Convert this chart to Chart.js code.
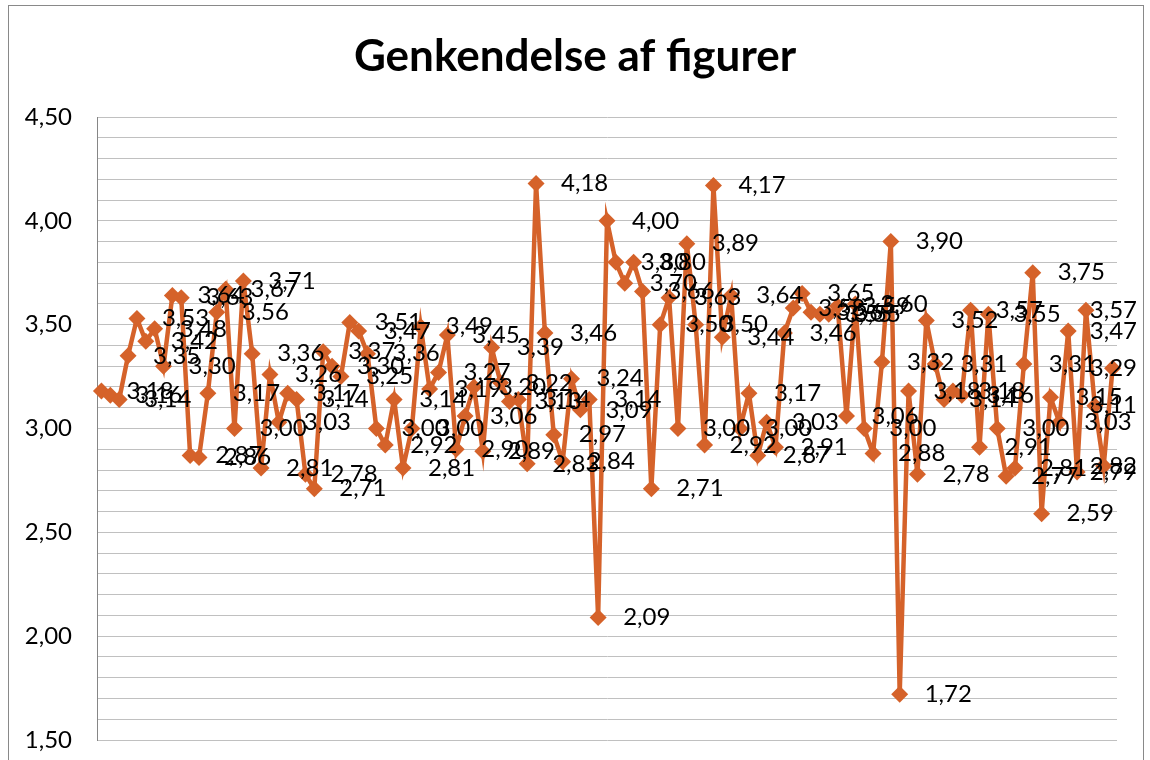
<!DOCTYPE html>
<html><head><meta charset="utf-8">
<script src="https://cdn.jsdelivr.net/npm/chart.js"></script>
<style>html,body{margin:0;padding:0;background:#fff;overflow:hidden;}canvas{display:block;}</style>
</head><body>
<canvas id="c" width="1150" height="760"></canvas>
<script>
const chartTitle = 'Genkendelse af figurer';
const values = [
3.18,3.16,3.14,3.35,3.53,3.42,3.48,3.30,3.64,3.63,
2.87,2.86,3.17,3.56,3.67,3.00,3.71,3.36,2.81,3.26,
3.03,3.17,3.14,2.78,2.71,3.37,3.30,3.25,3.51,3.47,
3.36,3.00,2.92,3.14,2.81,3.00,3.49,3.19,3.27,3.45,
2.90,3.06,3.20,2.89,3.39,3.22,3.13,3.14,2.83,4.18,
3.46,2.97,2.84,3.24,3.09,3.14,2.09,4.00,3.80,3.70,
3.80,3.66,2.71,3.50,3.63,3.00,3.89,3.50,2.92,4.17,
3.44,3.64,3.00,3.17,2.87,3.03,2.91,3.46,3.58,3.65,
3.56,3.55,3.55,3.59,3.06,3.60,3.00,2.88,3.32,3.90,
1.72,3.18,2.78,3.52,3.31,3.14,3.18,3.16,3.57,2.91,
3.55,3.00,2.77,2.81,3.31,3.75,2.59,3.15,3.03,3.47,
2.79,3.57,3.11,2.82,3.29
];
const categories = values.map((v, i) => String(i + 1));
const yLabelTicks = [1.5, 2.0, 2.5, 3.0, 3.5, 4.0, 4.5];
const yMin = 1.5, yMax = 4.5, gridStep = 0.1;
const fmt = v => v.toFixed(2).replace('.', ',');

const framePlugin = {
  id: 'frame',
  beforeDraw(chart) {
    const c = chart.ctx;
    c.save();
    c.fillStyle = '#fff';
    c.fillRect(0, 0, chart.width, chart.height);
    c.strokeStyle = '#898989';
    c.lineWidth = 1;
    c.strokeRect(8.5, 5.5, 1135, 800);
    c.restore();
  }
};

const labelPlugin = {
  id: 'pointLabels',
  afterDatasetsDraw(chart) {
    const c = chart.ctx;
    const meta = chart.getDatasetMeta(0);
    c.save();
    c.font = '24px Lato';
    c.fillStyle = '#000';
    c.textBaseline = 'middle';
    c.textAlign = 'left';
    meta.data.forEach((pt, i) => {
      const txt = fmt(values[i]);
      const w = c.measureText(txt).width;
      let x = pt.x + 25;
      if (x + w > 1137) x = 1137 - w;
      c.fillText(txt, x, pt.y);
    });
    c.restore();
  }
};

new Chart(document.getElementById('c'), {
  type: 'line',
  data: {
    labels: categories,
    datasets: [{
      data: values,
      borderColor: '#D5622A',
      backgroundColor: '#D5622A',
      borderWidth: 4.5,
      pointStyle: 'rectRot',
      pointRadius: 8.5,
      pointBorderWidth: 0,
      pointBackgroundColor: '#D5622A',
      tension: 0
    }]
  },
  options: {
    responsive: false,
    animation: false,
    devicePixelRatio: 1,
    layout: { padding: { top: 0, left: 0, right: 0, bottom: 20 } },
    plugins: {
      legend: { display: false },
      tooltip: { enabled: false },
      title: {
        display: true,
        text: chartTitle,
        color: '#000',
        font: { family: 'Lato', size: 44, weight: 'bold' },
        padding: { top: 30.6, bottom: 33.6 }
      }
    },
    scales: {
      x: {
        type: 'category',
        offset: true,
        ticks: { display: false },
        grid: { display: false },
        border: { display: false },
        afterFit(s) { s.height = 0; }
      },
      y: {
        min: yMin,
        max: yMax,
        afterBuildTicks(s) {
          const t = [];
          const n = Math.round((yMax - yMin) / gridStep);
          for (let k = 0; k <= n; k++) t.push({ value: Math.round((yMin + k * gridStep) * 10) / 10 });
          s.ticks = t;
        },
        ticks: {
          autoSkip: false,
          padding: 25,
          color: '#000',
          font: { family: 'Lato', size: 24 },
          callback(v) { return yLabelTicks.some(t => Math.abs(t - v) < 1e-6) ? fmt(v) : ''; }
        },
        grid: { color: '#C0C0C0', lineWidth: 1, drawTicks: false },
        border: { color: '#868686' },
        afterFit(s) { s.width = 97; s.paddingTop = 0; s.paddingBottom = 0; }
      },
      y2: {
        position: 'right',
        display: true,
        ticks: { display: false },
        grid: { display: false },
        border: { display: false },
        afterFit(s) { s.width = 33; s.paddingTop = 0; s.paddingBottom = 0; }
      }
    }
  },
  plugins: [framePlugin, labelPlugin]
});
</script></body></html>
